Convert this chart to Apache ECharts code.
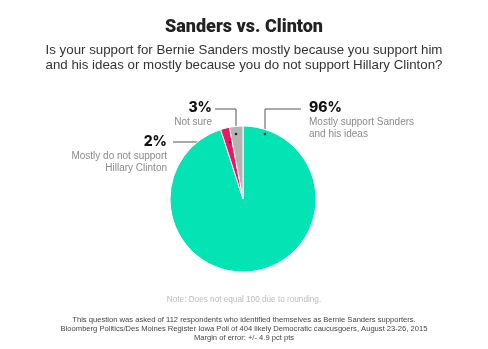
<!DOCTYPE html>
<html><head><meta charset="utf-8">
<script src="https://cdn.jsdelivr.net/npm/echarts@6/dist/echarts.min.js"></script>
<style>html,body{margin:0;padding:0;background:#fff}#c{width:488px;height:349px}</style>
</head><body><div id="c"></div>
<script>
const categories = ['Mostly support Sanders and his ideas', 'Mostly do not support Hillary Clinton', 'Not sure'];
const values = [96, 2, 3];
const pctLabels = ['96%', '2%', '3%'];
const nameLines = [['Mostly support Sanders', 'and his ideas'], ['Mostly do not support', 'Hillary Clinton'], ['Not sure']];
const colors = ['#04e3b4', '#ee1660', '#b3b3b3'];

// label placement (styling)
const labelPlace = [
  {x: 309, y: 100, align: 'left', pts: [[265, 134], [265, 109], [301, 109]]},
  {x: 167, y: 134, align: 'right', pts: [[230, 142], [200, 142], [173, 142]]},
  {x: 212, y: 100, align: 'right', pts: [[236, 134], [236, 109], [215, 109]]}
];

const chart = echarts.init(document.getElementById('c'), null, {renderer: 'canvas'});
const font = 'Liberation Sans, Arial, sans-serif';
chart.setOption({
  animation: false,
  title: [{
    text: 'Sanders vs. Clinton', left: 'center', top: 13,
    textStyle: {fontFamily: 'Roboto, sans-serif', fontWeight: 900, fontSize: 18, color: '#222'}
  }, {
    text: 'Is your support for Bernie Sanders mostly because you support him\nand his ideas or mostly because you do not support Hillary Clinton?',
    left: 'center', top: 38,
    textStyle: {fontFamily: font, fontWeight: 'normal', fontSize: 13.3, lineHeight: 15, color: '#333', align: 'center'}
  }, {
    text: 'Note: Does not equal 100 due to rounding.', left: 'center', top: 291,
    textStyle: {fontFamily: font, fontWeight: 'normal', fontSize: 8.2, color: '#bbb'}
  }, {
    text: 'This question was asked of 112 respondents who identified themselves as Bernie Sanders supporters.\nBloomberg Politics/Des Moines Register Iowa Poll of 404 likely Democratic caucusgoers, August 23-26, 2015\nMargin of error: +/- 4.9 pct pts',
    left: 'center', top: 310,
    textStyle: {fontFamily: font, fontWeight: 'normal', fontSize: 7.6, lineHeight: 9.3, color: '#444', align: 'center'}
  }],
  series: [{
    type: 'pie',
    center: [243, 199],
    radius: 73,
    startAngle: 90,
    clockwise: true,
    silent: true,
    itemStyle: {borderColor: '#fff', borderWidth: 1},
    data: categories.map((c, i) => ({name: c, value: values[i], itemStyle: {color: colors[i]}})),
    label: {
      show: true, position: 'outside',
      formatter: p => '{v|' + pctLabels[p.dataIndex] + '}\n' + nameLines[p.dataIndex].map(s => '{n|' + s + '}').join('\n'),
      rich: {
        v: {fontFamily: 'Inter, Roboto, sans-serif', fontWeight: 800, fontSize: 14, lineHeight: 16, color: '#111'},
        n: {fontFamily: font, fontSize: 10, lineHeight: 12, color: '#8a8a8a'}
      }
    },
    labelLine: {show: true, lineStyle: {color: '#555', width: 1}},
    labelLayout: p => {
      const L = labelPlace[p.dataIndex];
      return {x: L.x, y: L.y, align: L.align, verticalAlign: 'top', labelLinePoints: L.pts};
    }
  }],
  graphic: labelPlace.map(L => ({type: 'circle', shape: {cx: L.pts[0][0], cy: L.pts[0][1], r: 1.3}, style: {fill: '#222'}, z: 100}))
});
</script></body></html>
